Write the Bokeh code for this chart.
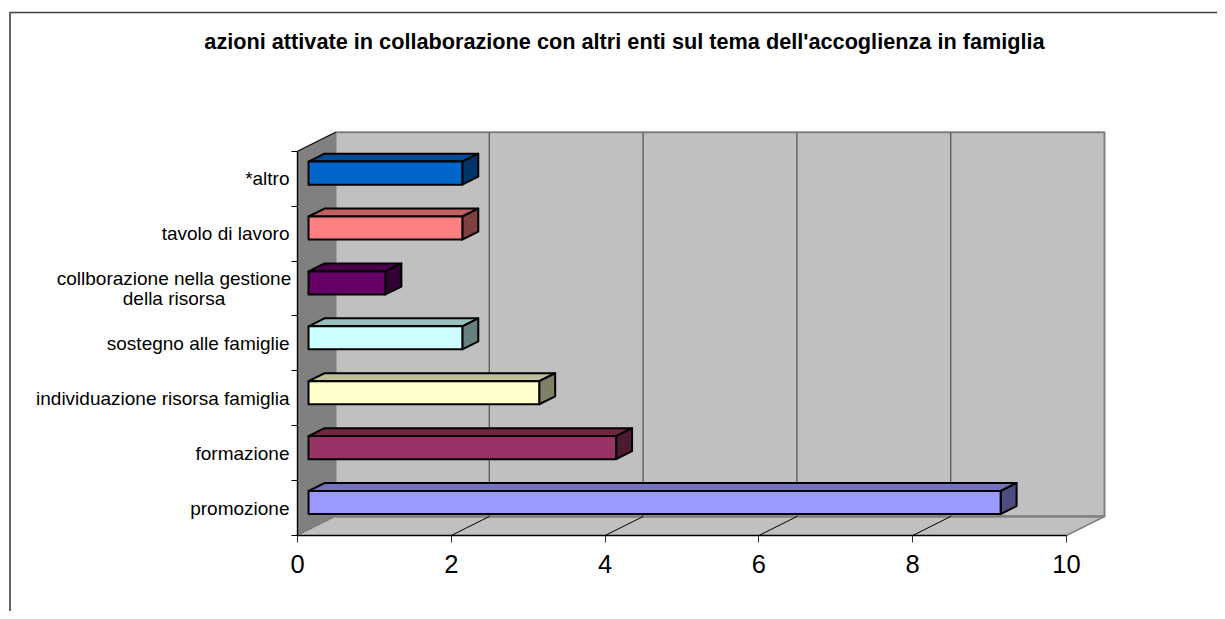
from bokeh.plotting import figure
from bokeh.models import LinearAxis, FixedTicker, Range1d, Label
from bokeh.core.properties import value
from bokeh.embed import file_html
from bokeh.resources import INLINE

# ---- data ----
categories = ["promozione", "formazione", "individuazione risorsa famiglia",
              "sostegno alle famiglie", "collborazione nella gestione\ndella risorsa",
              "tavolo di lavoro", "*altro"]
values = [9, 4, 3, 2, 1, 2, 2]
colors = ["#9999FF", "#993366", "#FFFFCC", "#CCFFFF", "#660066", "#FF8080", "#0066CC"]
top_colors = ["#7373BF", "#732640", "#BFBF99", "#99BFBF", "#4C004C", "#BF6060", "#004C99"]
side_colors = ["#4D4D80", "#4D1A33", "#808066", "#668080", "#330033", "#804040", "#003366"]
x_ticks = [0, 2, 4, 6, 8, 10]
title = "azioni attivate in collaborazione con altri enti sul tema dell'accoglienza in famiglia"

# ---- geometry of the 3-D projection ----
W, H = 1217, 611
PAD = 0
ORIGIN_X, ORIGIN_Y = 297.0, 535.0     # canvas pixel of value 0 / category edge 0
UX, UY = 76.9, 54.9                   # pixels per value, pixels per category
DX, DY = 38 / UX, 19 / UY             # full depth offset in data units
D0, D1 = 0.29, 0.71                   # depth span of a bar
BAR_H = 0.42
NCAT = len(categories)
XMAX = x_ticks[-1]


def px(x):
    return (x - ORIGIN_X) / UX


def py(y):
    return (ORIGIN_Y - y) / UY


def proj(x, y, d):
    return x + d * DX, y + d * DY


def poly(points):
    pts = [proj(*q) for q in points]
    return [a for a, _ in pts], [b for _, b in pts]


p = figure(width=W, height=H, x_axis_type=None, y_axis_type=None,
           x_range=Range1d(px(PAD), px(PAD + W)), y_range=Range1d(py(PAD + H), py(PAD)),
           toolbar_location=None, output_backend="svg", min_border=0,
           outline_line_color=None, background_fill_color="white",
           border_fill_color="white")
p.grid.visible = False

# chart border (top and left edges are inside the window)
p.line([px(9.5), px(9.5), px(PAD + W)], [py(PAD + H), py(12), py(12)], line_color="#404040", line_width=1.6)

# walls and floor
wx, wy = poly([(0, 0, 0), (0, 0, 1), (0, NCAT, 1), (0, NCAT, 0)])
p.patch(wx, wy, fill_color="#808080", line_color=None)
bx, by = poly([(0, 0, 1), (XMAX, 0, 1), (XMAX, NCAT, 1), (0, NCAT, 1)])
p.patch(bx, by, fill_color="#C0C0C0", line_color="#808080", line_width=2)
fx, fy = poly([(0, 0, 0), (XMAX, 0, 0), (XMAX, 0, 1), (0, 0, 1)])
p.patch(fx, fy, fill_color="#C0C0C0", line_color=None)
lx, ly = poly([(XMAX, 0, 0), (XMAX, 0, 1)])
p.line(lx, ly, line_color="#808080", line_width=1.5)
lx, ly = poly([(0, 0, 1), (XMAX, 0, 1)])
p.line(lx, ly, line_color="#808080", line_width=2.5)
lx, ly = poly([(0, NCAT, 0), (0, NCAT, 1)])
p.line(lx, ly, line_color="black", line_width=1.2)
lx, ly = poly([(0, 0, 0), (0, 0, 1)])
p.line(lx, ly, line_color="#606060", line_width=1, line_dash="2 1")

# gridlines
for t in x_ticks[1:-1]:
    gx, gy = poly([(t, NCAT, 1), (t, 0, 1)])
    p.line(gx, gy, line_color="#606060", line_width=1.4)
    gx, gy = poly([(t, 0, 1), (t, 0, 0)])
    p.line(gx, gy, line_color="black", line_width=1)

# bars
for i, v in enumerate(values):
    y0 = i + 0.5 - BAR_H / 2
    y1 = i + 0.5 + BAR_H / 2
    tx, ty = poly([(0, y1, D0), (v, y1, D0), (v, y1, D1), (0, y1, D1)])
    p.patch(tx, ty, fill_color=top_colors[i], line_color="black", line_width=2, line_join="round")
    sx, sy = poly([(v, y0, D0), (v, y0, D1), (v, y1, D1), (v, y1, D0)])
    p.patch(sx, sy, fill_color=side_colors[i], line_color="black", line_width=2, line_join="round")
    qx, qy = poly([(0, y0, D0), (v, y0, D0), (v, y1, D0), (0, y1, D0)])
    p.patch(qx, qy, fill_color=colors[i], line_color="black", line_width=2, line_join="round")

# axes
xaxis = LinearAxis(fixed_location=0, ticker=FixedTicker(ticks=x_ticks), bounds=(0, XMAX),
                   major_tick_in=0, major_tick_out=7, minor_tick_out=0, minor_tick_in=0,
                   axis_line_color="black", axis_line_width=1.4,
                   major_tick_line_color="#303030",
                   major_label_text_font="Liberation Sans",
                   major_label_text_font_size="25.5px",
                   major_label_text_color="black",
                   major_label_standoff=12)
p.add_layout(xaxis, "below")

yaxis = LinearAxis(fixed_location=0, ticker=FixedTicker(ticks=list(range(NCAT + 1))), bounds=(0, NCAT),
                   major_tick_in=0, major_tick_out=6, minor_tick_out=0, minor_tick_in=0,
                   axis_line_color="black", axis_line_width=1.4,
                   major_tick_line_color="black",
                   major_label_overrides={k: "" for k in range(NCAT + 1)})
p.add_layout(yaxis, "left")

# category labels
LABEL_RIGHT = px(289)
tx_r, ty_r, tt_r = [], [], []
tx_c, ty_c, tt_c = [], [], []
for i, c in enumerate(categories):
    lines = c.split("\n")
    if len(lines) == 1:
        tx_r.append(LABEL_RIGHT)
        ty_r.append(i + 0.5)
        tt_r.append(c)
    else:
        for j, ln in enumerate(lines):
            tx_c.append(px(173.5))
            ty_c.append(i + 0.5 + (0.5 - j) * 20 / UY)
            tt_c.append(ln)
p.text(tx_r, ty_r, text=tt_r, text_align="right", text_baseline="middle",
       text_font=value("Liberation Sans"), text_font_size="19px", text_color="black")
p.text(tx_c, ty_c, text=tt_c, text_align="center", text_baseline="middle",
       text_font=value("Liberation Sans"), text_font_size="19px", text_color="black")

# title
p.add_layout(Label(x=px(624), y=py(41), text=title, text_align="center", text_baseline="middle",
                   text_font="Liberation Sans", text_font_style="bold",
                   text_font_size="21.7px", text_color="black"))

open("out.html", "w").write(file_html(p, INLINE))
